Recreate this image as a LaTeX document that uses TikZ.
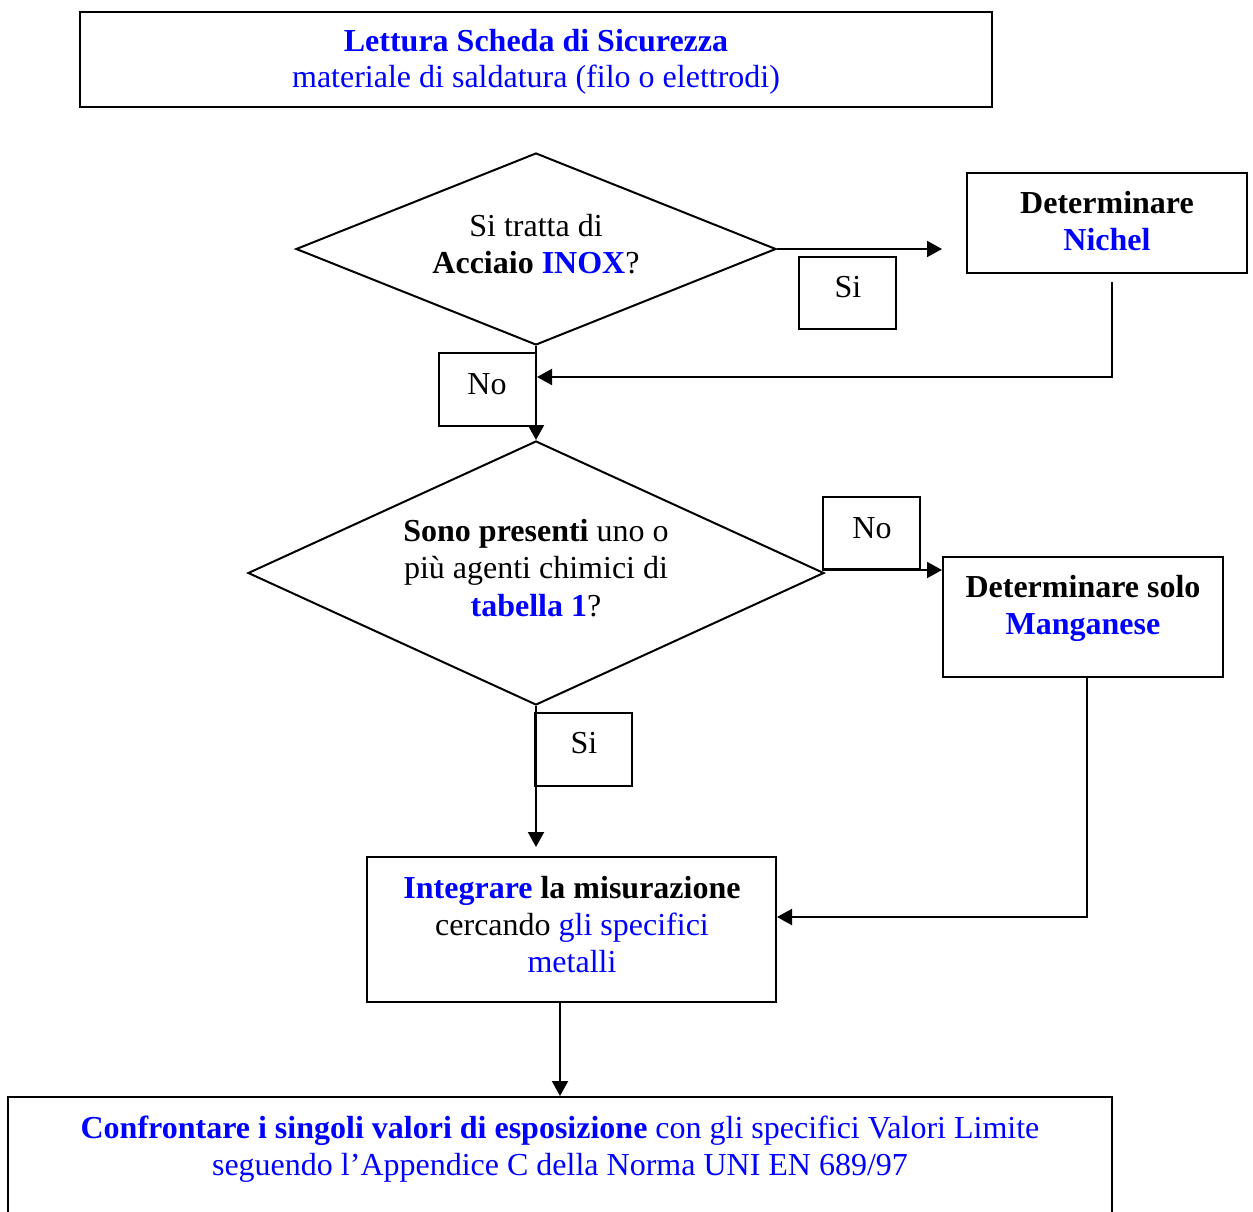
\documentclass[tikz,border=0pt]{standalone}
\usepackage{fontspec}
\setmainfont{Liberation Serif}
\usetikzlibrary{arrows.meta,shapes.geometric}
\definecolor{tblue}{RGB}{0,0,255}
\begin{document}
\begin{tikzpicture}[x=1pt,y=-1pt,
  box/.style={draw, line width=2pt, inner sep=0pt, rectangle},
  dia/.style={draw, line width=2pt, inner sep=0pt, diamond},
  txt/.style={inner sep=0pt, anchor=base, font=\fontsize{32}{37}\selectfont},
  arr/.style={line width=2pt, -{Triangle[length=15pt,width=16pt]}}]
\useasboundingbox (0,0) rectangle (1253,1212);
\fill[white] (0,0) rectangle (1253,1212);
\clip (0,0) rectangle (1253,1212);
% shapes
\node[box, minimum width=912pt, minimum height=95pt] (top) at (536,59.5) {};
\node[dia, minimum width=480pt, minimum height=192pt] (d1) at (536,249) {};
\node[box, minimum width=280pt, minimum height=100pt] (nichel) at (1107,223) {};
\node[box, minimum width=97pt, minimum height=72pt] (si1) at (847.5,293) {};
\node[box, minimum width=97pt, minimum height=73pt] (no1) at (487.5,389.5) {};
\node[dia, minimum width=576pt, minimum height=264pt] (d2) at (536,573) {};
\node[box, minimum width=97pt, minimum height=72pt] (no2) at (871.5,533) {};
\node[box, minimum width=280pt, minimum height=120pt] (mang) at (1083,617) {};
\node[box, minimum width=97pt, minimum height=73pt] (si2) at (583.5,749.5) {};
\node[box, minimum width=409pt, minimum height=145pt] (integ) at (571.5,929.5) {};
\node[box, minimum width=1104pt, minimum height=200pt] (bot) at (560,1197) {};
% texts
\node[txt, text=tblue] (t1a) at (536,52) {\textbf{Lettura Scheda di Sicurezza}};
\node[txt, text=tblue] (t1b) at (536,88) {materiale di saldatura (filo o elettrodi)};
\node[txt] (q1a) at (536,236) {Si tratta di};
\node[txt] (q1b) at (536,273) {\textbf{Acciaio} \textbf{\color{tblue}INOX}?};
\node[txt] (lsi1) at (848,297) {Si};
\node[txt] (nica) at (1107,213) {\textbf{Determinare}};
\node[txt, text=tblue] (nicb) at (1107,250) {\textbf{Nichel}};
\node[txt] (lno1) at (487,394) {No};
\node[txt] (q2a) at (536,541) {\textbf{Sono presenti} uno o};
\node[txt] (q2b) at (536,578) {più agenti chimici di};
\node[txt] (q2c) at (536,616) {\textbf{\color{tblue}tabella 1}?};
\node[txt] (lno2) at (872,538) {No};
\node[txt] (mga) at (1083,597) {\textbf{Determinare solo}};
\node[txt, text=tblue] (mgb) at (1083,634) {\textbf{Manganese}};
\node[txt] (lsi2) at (584,753) {Si};
\node[txt] (ina) at (572,898) {\textbf{{\color{tblue}Integrare} la misurazione}};
\node[txt] (inb) at (572,935) {cercando {\color{tblue}gli specifici}};
\node[txt, text=tblue] (inc) at (572,972) {metalli};
\node[txt, text=tblue] (bta) at (560,1138) {\textbf{Confrontare i singoli valori di esposizione} con gli specifici Valori Limite};
\node[txt, text=tblue] (btb) at (560,1175) {seguendo l’Appendice C della Norma UNI EN 689/97};
% connectors
\draw[arr, shorten >=24pt] (d1.east) -- (d1.east -| nichel.west);
\draw[arr] ([xshift=5pt,yshift=-8pt]nichel.south) |- ([yshift=12.5pt]no1.east);
\draw[arr] (d1.south) -- (d2.north);
\draw[arr] (no2.south west) -- (no2.south west -| mang.west);
\draw[arr, shorten >=9pt] (d2.south) -- (d2.south |- integ.north);
\draw[arr] ([xshift=4pt]mang.south) |- ([yshift=12.5pt]integ.east);
\draw[arr] (integ.south -| bot.north) -- (bot.north);
\end{tikzpicture}
\end{document}
